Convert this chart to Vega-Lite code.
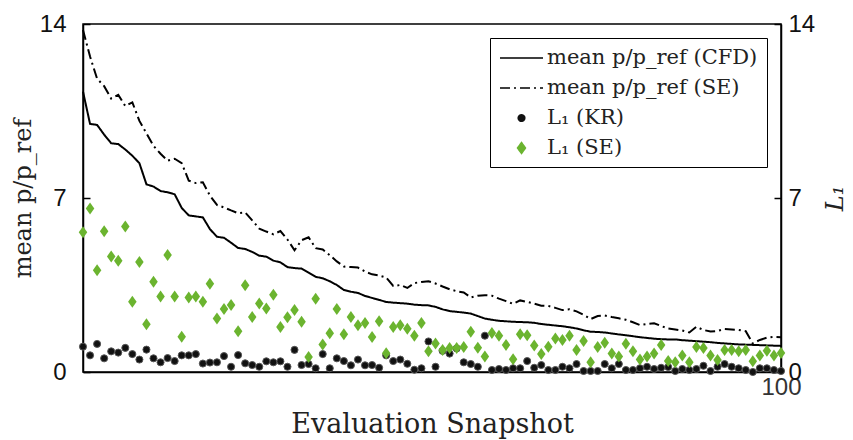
{
  "$schema": "https://vega.github.io/schema/vega-lite/v6.json",
  "width": 698,
  "height": 348,
  "autosize": {"type": "none"},
  "padding": {"left": 83, "top": 24, "right": 72, "bottom": 68},
  "background": "white",
  "config": {
    "view": {"stroke": "black", "strokeWidth": 1.5},
    "axis": {"grid": false, "domainColor": "black", "domainWidth": 1.5, "tickColor": "black", "tickWidth": 1.5, "labelFont": "Liberation Sans", "labelFontSize": 24, "labelColor": "#111", "titleFont": "DejaVu Serif", "titleFontSize": 24, "titleFontWeight": "normal", "titleColor": "#222"}
  },
  "data": {"values": [
    {"s":1,"cfd":11.28,"se":13.76,"kr":1.02,"sel":5.62},
    {"s":2,"cfd":9.98,"se":12.69,"kr":0.67,"sel":6.58},
    {"s":3,"cfd":9.94,"se":11.8,"kr":1.13,"sel":4.09},
    {"s":4,"cfd":9.55,"se":11.5,"kr":0.55,"sel":5.66},
    {"s":5,"cfd":9.2,"se":11.0,"kr":0.83,"sel":4.65},
    {"s":6,"cfd":9.17,"se":11.15,"kr":0.78,"sel":4.48},
    {"s":7,"cfd":8.95,"se":10.7,"kr":0.97,"sel":5.85},
    {"s":8,"cfd":8.7,"se":10.85,"kr":0.72,"sel":2.83},
    {"s":9,"cfd":8.4,"se":10.1,"kr":0.5,"sel":4.43},
    {"s":10,"cfd":7.55,"se":9.6,"kr":0.9,"sel":1.92},
    {"s":11,"cfd":7.46,"se":9.1,"kr":0.55,"sel":3.63},
    {"s":12,"cfd":7.28,"se":8.78,"kr":0.39,"sel":3.04},
    {"s":13,"cfd":7.23,"se":8.5,"kr":0.56,"sel":4.71},
    {"s":14,"cfd":7.15,"se":8.58,"kr":0.44,"sel":3.04},
    {"s":15,"cfd":6.6,"se":8.4,"kr":0.67,"sel":1.42},
    {"s":16,"cfd":6.3,"se":7.7,"kr":0.67,"sel":3.0},
    {"s":17,"cfd":6.26,"se":7.6,"kr":0.72,"sel":3.04},
    {"s":18,"cfd":6.22,"se":7.63,"kr":0.34,"sel":2.83},
    {"s":19,"cfd":5.75,"se":7.1,"kr":0.38,"sel":3.55},
    {"s":20,"cfd":5.44,"se":6.72,"kr":0.39,"sel":2.15},
    {"s":21,"cfd":5.4,"se":6.62,"kr":0.64,"sel":2.53},
    {"s":22,"cfd":5.2,"se":6.5,"kr":0.21,"sel":2.7},
    {"s":23,"cfd":4.99,"se":6.39,"kr":0.68,"sel":1.64},
    {"s":24,"cfd":4.95,"se":6.42,"kr":0.35,"sel":3.49},
    {"s":25,"cfd":4.83,"se":6.1,"kr":0.28,"sel":2.21},
    {"s":26,"cfd":4.68,"se":5.77,"kr":0.21,"sel":2.76},
    {"s":27,"cfd":4.64,"se":5.65,"kr":0.43,"sel":2.55},
    {"s":28,"cfd":4.48,"se":5.54,"kr":0.39,"sel":3.11},
    {"s":29,"cfd":4.41,"se":5.67,"kr":0.43,"sel":1.81},
    {"s":30,"cfd":4.22,"se":5.33,"kr":0.21,"sel":2.2},
    {"s":31,"cfd":4.18,"se":4.9,"kr":0.89,"sel":2.49},
    {"s":32,"cfd":4.16,"se":5.3,"kr":0.28,"sel":2.02},
    {"s":33,"cfd":4.0,"se":5.42,"kr":0.32,"sel":0.6},
    {"s":34,"cfd":3.83,"se":4.98,"kr":0.15,"sel":2.95},
    {"s":35,"cfd":3.77,"se":4.93,"kr":0.72,"sel":1.11},
    {"s":36,"cfd":3.65,"se":4.7,"kr":0.15,"sel":1.56},
    {"s":37,"cfd":3.5,"se":4.45,"kr":0.55,"sel":2.53},
    {"s":38,"cfd":3.3,"se":4.24,"kr":0.44,"sel":1.52},
    {"s":39,"cfd":3.23,"se":4.22,"kr":0.27,"sel":2.21},
    {"s":40,"cfd":3.18,"se":4.2,"kr":0.5,"sel":1.88},
    {"s":41,"cfd":3.06,"se":4.04,"kr":0.27,"sel":1.97},
    {"s":42,"cfd":2.98,"se":3.93,"kr":0.28,"sel":1.41},
    {"s":43,"cfd":2.9,"se":3.88,"kr":0.17,"sel":2.04},
    {"s":44,"cfd":2.82,"se":3.8,"kr":0.67,"sel":0.75},
    {"s":45,"cfd":2.79,"se":3.46,"kr":0.44,"sel":1.81},
    {"s":46,"cfd":2.77,"se":3.5,"kr":0.5,"sel":1.88},
    {"s":47,"cfd":2.75,"se":3.38,"kr":0.33,"sel":1.74},
    {"s":48,"cfd":2.71,"se":3.58,"kr":0.09,"sel":1.46},
    {"s":49,"cfd":2.69,"se":3.62,"kr":0.15,"sel":1.97},
    {"s":50,"cfd":2.68,"se":3.65,"kr":1.23,"sel":0.83},
    {"s":51,"cfd":2.62,"se":3.56,"kr":0.21,"sel":1.15},
    {"s":52,"cfd":2.52,"se":3.44,"kr":0.85,"sel":0.89},
    {"s":53,"cfd":2.45,"se":3.33,"kr":0.74,"sel":0.97},
    {"s":54,"cfd":2.42,"se":3.25,"kr":0.95,"sel":0.97},
    {"s":55,"cfd":2.39,"se":3.2,"kr":0.39,"sel":1.01},
    {"s":56,"cfd":2.35,"se":3.0,"kr":0.32,"sel":1.62},
    {"s":57,"cfd":2.25,"se":3.07,"kr":0.21,"sel":0.98},
    {"s":58,"cfd":2.15,"se":3.09,"kr":1.46,"sel":0.62},
    {"s":59,"cfd":2.1,"se":3.07,"kr":0.08,"sel":1.57},
    {"s":60,"cfd":2.06,"se":2.95,"kr":0.12,"sel":1.46},
    {"s":61,"cfd":2.04,"se":2.85,"kr":0.08,"sel":1.09},
    {"s":62,"cfd":2.02,"se":2.74,"kr":0.15,"sel":0.51},
    {"s":63,"cfd":2.01,"se":2.88,"kr":0.15,"sel":1.52},
    {"s":64,"cfd":2.0,"se":2.82,"kr":0.44,"sel":1.48},
    {"s":65,"cfd":1.98,"se":2.75,"kr":0.17,"sel":1.07},
    {"s":66,"cfd":1.93,"se":2.67,"kr":0.28,"sel":0.72},
    {"s":67,"cfd":1.9,"se":2.66,"kr":0.08,"sel":1.02},
    {"s":68,"cfd":1.87,"se":2.58,"kr":0.08,"sel":1.35},
    {"s":69,"cfd":1.84,"se":2.49,"kr":0.21,"sel":1.29},
    {"s":70,"cfd":1.8,"se":2.52,"kr":0.15,"sel":1.46},
    {"s":71,"cfd":1.75,"se":2.44,"kr":0.32,"sel":0.89},
    {"s":72,"cfd":1.68,"se":2.3,"kr":0.04,"sel":1.25},
    {"s":73,"cfd":1.62,"se":2.13,"kr":0.04,"sel":0.39},
    {"s":74,"cfd":1.61,"se":2.25,"kr":0.04,"sel":1.01},
    {"s":75,"cfd":1.59,"se":2.27,"kr":0.32,"sel":1.18},
    {"s":76,"cfd":1.55,"se":2.21,"kr":0.15,"sel":0.74},
    {"s":77,"cfd":1.51,"se":2.16,"kr":0.32,"sel":0.62},
    {"s":78,"cfd":1.48,"se":2.1,"kr":0.08,"sel":1.14},
    {"s":79,"cfd":1.44,"se":2.0,"kr":0.08,"sel":0.83},
    {"s":80,"cfd":1.4,"se":1.89,"kr":0.15,"sel":0.5},
    {"s":81,"cfd":1.37,"se":1.93,"kr":0.21,"sel":0.62},
    {"s":82,"cfd":1.34,"se":1.96,"kr":0.12,"sel":0.74},
    {"s":83,"cfd":1.32,"se":1.85,"kr":0.17,"sel":1.09},
    {"s":84,"cfd":1.31,"se":1.75,"kr":0.2,"sel":0.44},
    {"s":85,"cfd":1.31,"se":1.71,"kr":0.04,"sel":0.39},
    {"s":86,"cfd":1.28,"se":1.67,"kr":0.12,"sel":0.66},
    {"s":87,"cfd":1.26,"se":1.59,"kr":0.08,"sel":0.39},
    {"s":88,"cfd":1.24,"se":1.82,"kr":0.12,"sel":1.01},
    {"s":89,"cfd":1.22,"se":1.69,"kr":0.25,"sel":0.97},
    {"s":90,"cfd":1.2,"se":1.63,"kr":0.04,"sel":0.66},
    {"s":91,"cfd":1.17,"se":1.65,"kr":0.21,"sel":0.48},
    {"s":92,"cfd":1.15,"se":1.73,"kr":0.32,"sel":0.89},
    {"s":93,"cfd":1.13,"se":1.71,"kr":0.21,"sel":0.89},
    {"s":94,"cfd":1.11,"se":1.69,"kr":0.15,"sel":0.83},
    {"s":95,"cfd":1.1,"se":1.64,"kr":0.08,"sel":0.89},
    {"s":96,"cfd":1.09,"se":1.15,"kr":0.0,"sel":0.43},
    {"s":97,"cfd":1.08,"se":1.29,"kr":0.15,"sel":0.66},
    {"s":98,"cfd":1.07,"se":1.38,"kr":0.15,"sel":0.85},
    {"s":99,"cfd":1.06,"se":1.41,"kr":0.08,"sel":0.66},
    {"s":100,"cfd":1.05,"se":1.4,"kr":0.04,"sel":0.76}
  ]},
  "transform": [{"fold": ["cfd", "se", "kr", "sel"], "as": ["series", "value"]}],
  "encoding": {
    "x": {
      "field": "s", "type": "quantitative",
      "scale": {"domain": [1, 100], "nice": false, "zero": false},
      "axis": {"values": [100], "ticks": false, "labelFlush": false, "labelPadding": 3, "labelColor": "#333", "title": "Evaluation Snapshot", "titleFontSize": 27, "titlePadding": 12}
    }
  },
  "layer": [
    {
      "transform": [{"filter": "datum.series === 'cfd' || datum.series === 'se'"}],
      "mark": {"type": "line", "strokeWidth": 2},
      "encoding": {
        "y": {"field": "value", "type": "quantitative", "scale": {"domain": [0, 14], "nice": false},
          "axis": {"values": [0, 7, 14], "title": "mean p/p_ref", "tickSize": -7, "labelPadding": 24, "titlePadding": 4}},
        "strokeDash": {"field": "series", "type": "nominal", "scale": {"domain": ["cfd", "se"], "range": [[1, 0], [10, 4, 2, 4]]}, "legend": null},
        "color": {
          "field": "series", "type": "nominal",
          "scale": {"domain": ["cfd", "se", "kr", "sel"], "range": ["black", "black", "#111111", "#6bb42f"]},
          "legend": {
            "title": null, "orient": "top-right", "offset": 14, "padding": 9,
            "fillColor": "white", "strokeColor": "black",
            "labelFont": "DejaVu Serif", "labelFontSize": 21, "labelColor": "#222", "labelOffset": 26, "rowPadding": 9,
            "symbolSize": 100, "labelLimit": 400,
            "labelExpr": "datum.value === 'cfd' ? 'mean p/p_ref (CFD)' : datum.value === 'se' ? 'mean p/p_ref (SE)' : datum.value === 'kr' ? 'L₁ (KR)' : 'L₁ (SE)'",
            "encode": {"symbols": {"update": {
              "shape": {"signal": "datum.value === 'kr' ? 'M0.82,0A0.33,0.33 0 1,1 1.48,0A0.33,0.33 0 1,1 0.82,0Z' : datum.value === 'sel' ? 'M1.15,-0.55L1.55,0L1.15,0.55L0.75,0Z' : 'M-1.0,0H3.3'"},
              "size": {"value": 400},
              "strokeDash": {"signal": "datum.value === 'se' ? [10, 4, 2, 4] : [1, 0]"},
              "fill": {"signal": "datum.value === 'kr' ? '#111111' : datum.value === 'sel' ? '#6bb42f' : 'transparent'"},
              "stroke": {"signal": "datum.value === 'sel' ? '#6bb42f' : 'black'"},
              "strokeWidth": {"value": 1.5},
              "opacity": {"value": 1}
            }}}
          }
        }
      }
    },
    {
      "encoding": {
        "y": {"field": "value", "type": "quantitative", "scale": {"domain": [0, 14], "nice": false},
          "axis": {"orient": "right", "values": [0, 7, 14], "title": "L₁", "titleAngle": 270, "titleFontStyle": "italic", "tickSize": -7, "labelPadding": 14, "titlePadding": 33}},
        "color": {"field": "series", "type": "nominal", "scale": {"domain": ["cfd", "se", "kr", "sel"], "range": ["black", "black", "#111111", "#6bb42f"]}}
      },
      "layer": [
        {
          "transform": [{"filter": "datum.series === 'kr'"}],
          "mark": {"type": "point", "shape": "circle", "filled": true, "size": 50, "opacity": 1, "stroke": "#555555", "strokeWidth": 1}
        },
        {
          "transform": [{"filter": "datum.series === 'sel'"}],
          "mark": {"type": "point", "shape": "M0,-1.2L0.85,0L0,1.2L-0.85,0Z", "filled": true, "size": 100, "opacity": 1}
        }
      ]
    }
  ],
  "resolve": {"scale": {"y": "independent"}}
}
